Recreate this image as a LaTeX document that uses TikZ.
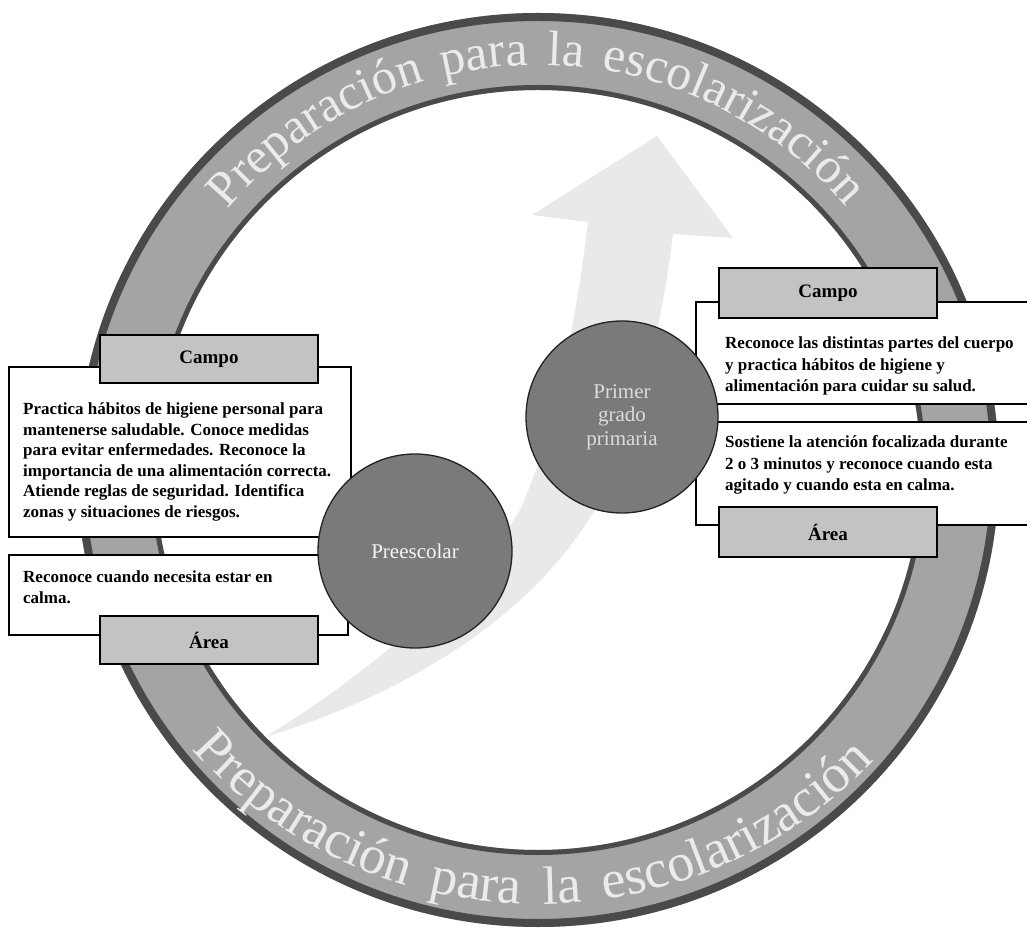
\documentclass[tikz,border=0pt]{standalone}
\usepackage{fontspec}
\setmainfont{Liberation Serif}
\usetikzlibrary{decorations.text}
\definecolor{ringfill}{HTML}{A4A4A4}
\definecolor{ringedge}{HTML}{4A4A4A}
\definecolor{ringtxt}{HTML}{EBEBEB}
\definecolor{arrowfill}{HTML}{E9E9E9}
\definecolor{circfill}{HTML}{7A7A7A}
\definecolor{circedge}{HTML}{222222}
\definecolor{headfill}{HTML}{C3C3C3}
\definecolor{circtxt}{HTML}{F4F4F4}
\newcommand\rtopfont{\fontsize{50}{50}\selectfont\color{ringtxt}}
\newcommand\rbotfont{\fontsize{54}{54}\selectfont\color{ringtxt}}
\newcommand\hdfont{\bfseries\fontsize{19}{20}\selectfont}
\newcommand\bdfont{\bfseries\fontsize{17}{20.5}\selectfont}
\newcommand\bdwfont{\bfseries\fontsize{17}{21.5}\selectfont}
\newcommand\crfont{\fontsize{21}{23.5}\selectfont}
\begin{document}
\begin{tikzpicture}[x=1pt,y=1pt,
  textbox/.style={rectangle, draw=black, line width=2.4pt, fill=white, inner sep=0pt},
  headbox/.style={rectangle, draw=black, line width=1.6pt, fill=headfill, minimum width=218pt, minimum height=48pt, inner sep=0pt, font=\hdfont},
  stage/.style={circle, draw=circedge, line width=1.3pt, fill=circfill, minimum size=194pt, inner sep=0pt, text=circtxt, font=\crfont, align=center},
  bodytext/.style={anchor=base west, inner sep=0pt, font=\bdfont},
  ringlabel/.style={decorate, decoration={text along path, text align={fit to path stretching spaces}, text={#1}}}
]
\useasboundingbox (0,0) rectangle (1027,932);
\clip (0,0) rectangle (1027,932);
\fill[white] (0,0) rectangle (1027,932);

% ring
\fill[ringfill, even odd rule] (538,462) ellipse [x radius=461, y radius=457]
                               (538,462) ellipse [x radius=383, y radius=380];
\draw[ringedge, line width=8pt] (538,462) ellipse [x radius=457, y radius=453];
\draw[ringedge, line width=5pt] (538,462) ellipse [x radius=385.5, y radius=382.5];

\path[ringlabel={|\rtopfont|Preparación para la escolarización}]
  (538,462) ++(140:405) arc[start angle=140, end angle=40.5, radius=405];
\path[ringlabel={|\rbotfont|Preparación para la escolarización}]
  (538,462) ++(220:452 and 434) arc[start angle=220, end angle=318, x radius=452, y radius=434];

% big arrow
\fill[arrowfill] (265,195) .. controls (420,242) and (560,332) .. (615,462)
  .. controls (650,552) and (665,632) .. (673,698)
  -- (733,694) -- (657,796) -- (532,717) -- (588,710)
  .. controls (575,602) and (553,495) .. (520,422)
  .. controls (478,350) and (360,252) .. (265,195) -- cycle;

% left group
\node[textbox, minimum width=342pt, minimum height=170pt] (lbox) at (180,480) {};
\node[textbox, minimum width=339pt, minimum height=80pt] (llow) at (178.5,337) {};
\node[headbox] (lcampo) at (209,573) {Campo};
\node[headbox] (larea) at (209,292) {Área};
\node[bodytext] (ltxt) at (23,517) {\begin{tabular}[t]{@{}l@{}}
Practica hábitos de higiene personal para\\
mantenerse saludable. Conoce medidas\\
para evitar enfermedades. Reconoce la\\
importancia de una alimentación correcta.\\
Atiende reglas de seguridad. Identifica\\
zonas y situaciones de riesgos.\end{tabular}};
\node[bodytext] (ltxt2) at (23,349) {\begin{tabular}[t]{@{}l@{}}
Reconoce cuando necesita estar en\\
calma.\end{tabular}};

% right group
\node[textbox, minimum width=344pt, minimum height=102pt] (rbox) at (868,579) {};
\node[textbox, minimum width=344pt, minimum height=103pt] (rlow) at (868,458.5) {};
\node[headbox, minimum height=50pt] (rcampo) at (828,639) {Campo};
\node[headbox, minimum height=50pt] (rarea) at (828,400) {Área};
\node[bodytext, font=\bdwfont] (rtxt) at (725,583) {\begin{tabular}[t]{@{}l@{}}
Reconoce las distintas partes del cuerpo\\
y practica hábitos de higiene y\\
alimentación para cuidar su salud.\end{tabular}};
\node[bodytext, font=\bdwfont] (rtxt2) at (725,484) {\begin{tabular}[t]{@{}l@{}}
Sostiene la atención focalizada durante\\
2 o 3 minutos y reconoce cuando esta\\
agitado y cuando esta en calma.\end{tabular}};

% stages
\node[stage] (pre) at (415,381) {Preescolar};
\node[stage, minimum size=192pt, text=circtxt!90!black] (pri) at (622,515) {Primer\\grado\\primaria};
\end{tikzpicture}
\end{document}
